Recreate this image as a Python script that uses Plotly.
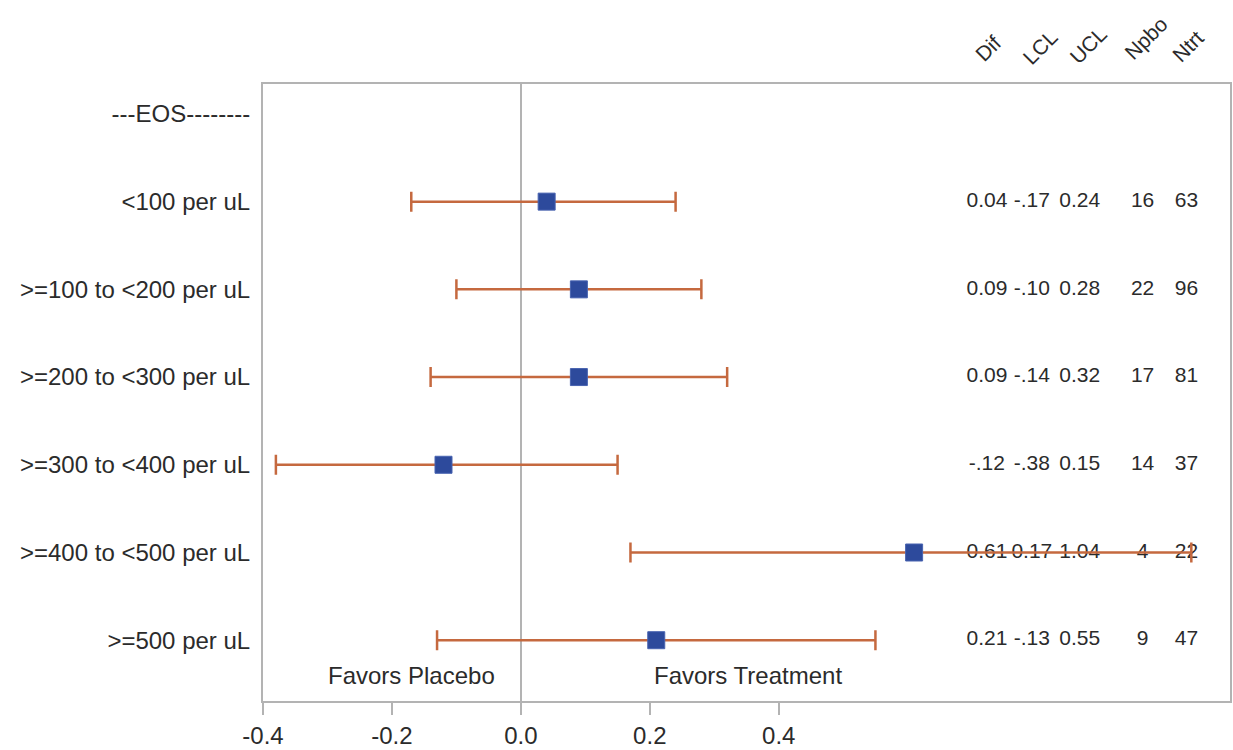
import plotly.graph_objects as go

# ---- data ----
row_labels = ["---EOS--------", "<100 per uL", ">=100 to <200 per uL", ">=200 to <300 per uL",
              ">=300 to <400 per uL", ">=400 to <500 per uL", ">=500 per uL"]
groups = row_labels[1:]
dif = [0.04, 0.09, 0.09, -0.12, 0.61, 0.21]
lcl = [-0.17, -0.10, -0.14, -0.38, 0.17, -0.13]
ucl = [0.24, 0.28, 0.32, 0.15, 1.04, 0.55]
npbo = [16, 22, 17, 14, 4, 9]
ntrt = [63, 96, 81, 37, 22, 47]
col_headers = ["Dif", "LCL", "UCL", "Npbo", "Ntrt"]
x_ticks = [-0.4, -0.2, 0.0, 0.2, 0.4]
x_tick_labels = ["-0.4", "-0.2", "0.0", "0.2", "0.4"]


def fmt(v):
    s = f"{v:.2f}"
    if s.startswith("-0."):
        s = "-" + s[2:]
    return s


FONT = "Liberation Sans, Arial, sans-serif"
TXT = "#2b2b2b"
GRAY = "#b3b3b3"
ORANGE = "#c5693f"
BLUE = "#2d4a9c"

ypos = list(range(1, len(row_labels)))  # data rows (row 0 is the EOS header)

fig = go.Figure()

# statistics columns as text
col_x = [0.7229, 0.7926, 0.8669, 0.9644, 1.0325]
col_text = [[fmt(v) for v in dif], [fmt(v) for v in lcl], [fmt(v) for v in ucl],
            [str(v) for v in npbo], [str(v) for v in ntrt]]
for cx, txt in zip(col_x, col_text):
    fig.add_trace(go.Scatter(
        x=[cx] * len(txt), y=ypos, mode="text", text=txt,
        textposition="middle center",
        textfont=dict(family=FONT, size=21, color=TXT),
        showlegend=False, hoverinfo="skip"))

# CI and point estimates
fig.add_trace(go.Scatter(
    x=dif, y=ypos, mode="markers",
    marker=dict(symbol="square", size=17, color=BLUE, line=dict(color="#4863b0", width=1)),
    error_x=dict(type="data", symmetric=False,
                 array=[u - d for u, d in zip(ucl, dif)],
                 arrayminus=[d - l for d, l in zip(dif, lcl)],
                 color=ORANGE, thickness=2.5, width=10),
    showlegend=False, hovertext=groups))

# column headers (rotated)
hdr_x = [0.7245, 0.8065, 0.8793, 0.9690, 1.0341]
hdr_y = [1.058, 1.060, 1.063, 1.074, 1.061]
for h, hx, hy in zip(col_headers, hdr_x, hdr_y):
    fig.add_annotation(x=hx, y=hy, xref="x", yref="paper", text=h, showarrow=False,
                       textangle=-45, font=dict(family=FONT, size=21, color=TXT),
                       xanchor="center", yanchor="middle")

# favours labels
fig.add_annotation(x=-0.17, y=6.398, xref="x", yref="y", text="Favors Placebo", showarrow=False,
                   font=dict(family=FONT, size=24, color=TXT))
fig.add_annotation(x=0.352, y=6.398, xref="x", yref="y", text="Favors Treatment", showarrow=False,
                   font=dict(family=FONT, size=24, color=TXT))

fig.update_layout(
    width=1233, height=750,
    margin=dict(l=263, r=1, t=84, b=47),
    paper_bgcolor="white", plot_bgcolor="white",
    font=dict(family=FONT, color=TXT),
    xaxis=dict(range=[-0.4, 1.1], tickvals=x_ticks, ticktext=x_tick_labels,
               ticks="outside", ticklen=12, tickwidth=2, tickcolor=GRAY,
               tickfont=dict(family=FONT, size=24, color=TXT),
               showgrid=False, showline=True, linecolor=GRAY, linewidth=2, mirror=True,
               zeroline=True, zerolinecolor=GRAY, zerolinewidth=2),
    yaxis=dict(range=[6.693, -0.341], tickvals=list(range(len(row_labels))), ticktext=row_labels,
               ticks="", tickfont=dict(family=FONT, size=24, color=TXT), ticklabelstandoff=6,
               showgrid=False, showline=True, linecolor=GRAY, linewidth=2, mirror=True,
               zeroline=False),
)

fig.write_html("out.html")
